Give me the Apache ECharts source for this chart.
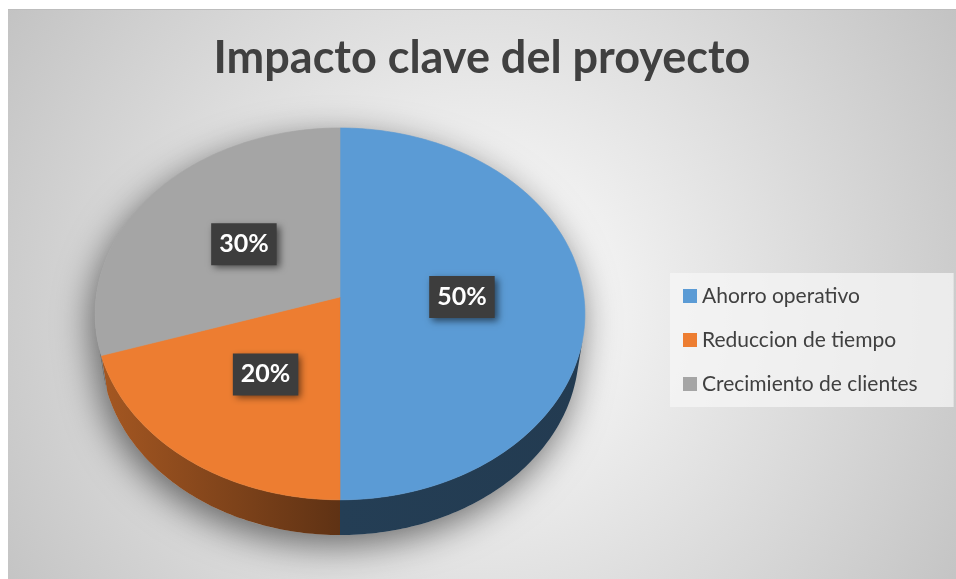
<!DOCTYPE html>
<html>
<head>
<meta charset="utf-8">
<script src="https://cdn.jsdelivr.net/npm/echarts@6/dist/echarts.min.js"></script>
<style>
  html, body { margin: 0; padding: 0; background: #fff; }
  #chart { position: absolute; left: 8px; top: 9px; width: 948px; height: 570px; border-top: 1px solid #bdbdbd; box-sizing: border-box; }
</style>
</head>
<body>
<div id="chart"></div>
<script>
const categories = ['Ahorro operativo', 'Reduccion de tiempo', 'Crecimiento de clientes'];
const values = [50, 20, 30];
const colors = ['#5B9BD5', '#ED7D31', '#A5A5A5'];

// tilted disc seen in perspective (Excel 3D pie look)
const pie = { cx: 332, cy: 287, f: 1756, D: 7.2, sinA: 0.756, depth: 0.238 };
pie.cosA = Math.sqrt(1 - pie.sinA * pie.sinA);

function proj(X, Z, h) {
  const d = pie.D - Z * pie.cosA + h * pie.sinA;
  return [pie.cx + pie.f * X / d, pie.cy + pie.f * (Z * pie.sinA + h * pie.cosA) / d];
}
// angle in degrees, clockwise from 12 o'clock
function rim(deg, r, h) {
  const t = deg * Math.PI / 180;
  return proj(r * Math.sin(t), -r * Math.cos(t), h);
}
function arc(a0, a1, r, h) {
  const pts = [];
  const n = Math.max(2, Math.ceil(Math.abs(a1 - a0)));
  for (let k = 0; k <= n; k++) pts.push(rim(a0 + (a1 - a0) * k / n, r, h));
  return pts;
}
function shade(hex, k) {
  const n = parseInt(hex.slice(1), 16);
  const c = [(n >> 16) & 255, (n >> 8) & 255, n & 255].map(v => Math.round(v * k));
  return 'rgb(' + c.join(',') + ')';
}

// side wall faces the camera only past the tangent points
const visA = Math.acos(-1 / (pie.D * pie.cosA)) * 180 / Math.PI;
const visB = 360 - visA;
const total = values.reduce((a, b) => a + b, 0);

function renderSlice(params, api) {
  const i = params.seriesIndex;
  const before = values.slice(0, i).reduce((a, b) => a + b, 0);
  const a0 = before / total * 360;
  const a1 = a0 + api.value(0) / total * 360;
  const color = api.visual('color');
  const children = [];

  if (i === 0) {
    const outline = arc(visB - 360, visA, 1, 0).concat(arc(visA, visB, 1, pie.depth));
    children.push({
      type: 'polygon', z2: -10, shape: { points: outline },
      style: { fill: '#bbb', shadowBlur: 36, shadowColor: 'rgba(0,0,0,0.55)', shadowOffsetX: -4, shadowOffsetY: 10 }
    });
  }

  const w0 = Math.max(a0, visA), w1 = Math.min(a1, visB);
  if (w1 > w0) {
    const wall = arc(w0, w1, 1, 0).concat(arc(w1, w0, 1, pie.depth));
    const left = proj(-1, 0, 0)[0];
    children.push({
      type: 'polygon', z2: 0, shape: { points: wall },
      style: {
        fill: new echarts.graphic.LinearGradient(left, 0, 2 * pie.cx - left, 0, [
          { offset: 0, color: shade(color, 0.7) },
          { offset: 0.5, color: shade(color, 0.4) },
          { offset: 1, color: shade(color, 0.38) }
        ], true)
      }
    });
  }

  const top = [proj(0, 0, 0)].concat(arc(a0, a1, 1, 0));
  children.push({
    type: 'polygon', z2: 10, shape: { points: top },
    style: { fill: color, stroke: color, lineWidth: 0.6 }
  });

  const mid = (a0 + a1) / 2;
  const p = rim(mid, 0.5, 0);
  children.push({
    type: 'text', z2: 20, x: p[0], y: p[1],
    style: {
      text: Math.round(api.value(0) / total * 100) + '%',
      fill: '#fff', font: 'bold 25px Lato', align: 'center', verticalAlign: 'middle',
      lineHeight: 24, padding: [9, 8, 9, 8], backgroundColor: '#3d3d3d',
      shadowBlur: 7, shadowColor: 'rgba(0,0,0,0.55)', shadowOffsetX: 3, shadowOffsetY: 3
    }
  });
  return { type: 'group', children: children };
}

var myChart = echarts.init(document.getElementById('chart'));
myChart.setOption({
  backgroundColor: new echarts.graphic.RadialGradient(0.5, 0.52, 1.0, [
    { offset: 0, color: '#ffffff' },
    { offset: 1, color: '#c2c2c2' }
  ]),
  animation: false,
  title: {
    text: 'Impacto clave del proyecto',
    left: 'center',
    top: 21,
    textStyle: { color: '#404040', fontFamily: 'Lato', fontWeight: 'bold', fontSize: 45 }
  },
  legend: {
    data: categories,
    orient: 'vertical',
    left: 662,
    top: 263,
    icon: 'rect',
    itemWidth: 14,
    itemHeight: 14,
    itemGap: 20,
    padding: [11, 36, 11, 13],
    backgroundColor: 'rgba(245,245,245,0.75)',
    textStyle: { color: '#404040', fontFamily: 'Lato', fontSize: 21, lineHeight: 24 }
  },
  series: categories.map((name, i) => ({
    type: 'custom',
    name: name,
    coordinateSystem: 'none',
    itemStyle: { color: colors[i] },
    data: [[values[i]]],
    renderItem: renderSlice
  }))
});
</script>
</body>
</html>
